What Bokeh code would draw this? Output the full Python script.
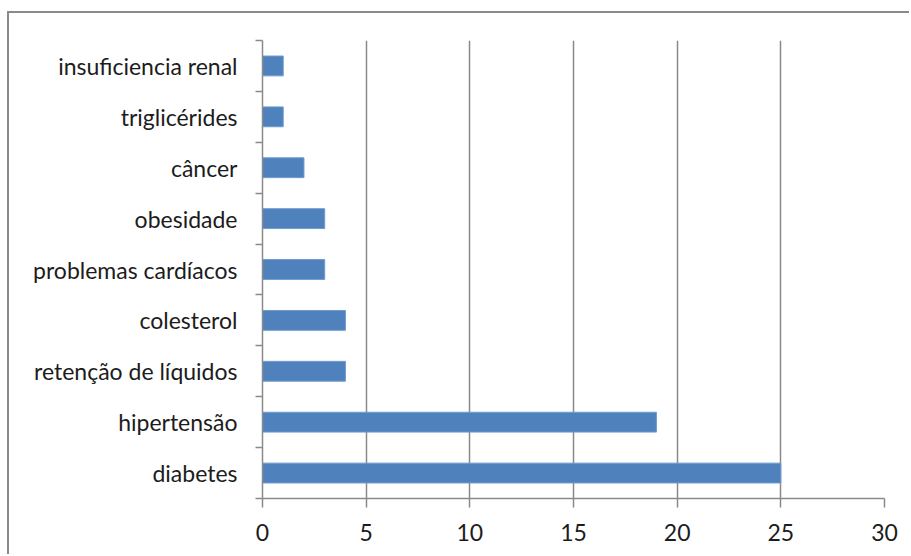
from bokeh.plotting import figure
from bokeh.models import FixedTicker, Range1d, ColumnDataSource
from bokeh.embed import file_html
from bokeh.resources import INLINE

categories = ["diabetes", "hipertensão", "retenção de líquidos", "colesterol",
              "problemas cardíacos", "obesidade", "câncer", "triglicérides",
              "insuficiencia renal"]
values = [25, 19, 4, 4, 3, 3, 2, 1, 1]
x_ticks = [0, 5, 10, 15, 20, 25, 30]

positions = [i + 0.5 for i in range(len(categories))]
source = ColumnDataSource(dict(y=positions, v=values))

p = figure(width=902, height=543, output_backend="svg", toolbar_location=None,
           x_range=Range1d(0, 30), y_range=Range1d(0, len(categories)),
           min_border_left=253, min_border_right=27, min_border_top=27,
           min_border_bottom=58)
p.margin = (11, 0, 0, 7)
p.styles = {"border-top": "2px solid #8a8a8a", "border-left": "2px solid #8a8a8a"}
p.outline_line_color = None
p.background_fill_color = "white"
p.border_fill_color = "white"

p.hbar(y="y", right="v", left=0, height=0.39, source=source,
       fill_color="#4F81BD", line_color="#6f9bd0", line_width=1)

grid_color = "#8a8a8a"
font = "Lato"
text_color = "#1c1c1c"

# x axis
p.xaxis.ticker = FixedTicker(ticks=x_ticks)
p.xaxis.axis_line_color = grid_color
p.xaxis.axis_line_width = 1.5
p.xaxis.major_tick_line_color = grid_color
p.xaxis.major_tick_line_width = 1.5
p.xaxis.major_tick_out = 9
p.xaxis.major_tick_in = 0
p.xaxis.minor_tick_line_color = None
p.xaxis.major_label_text_font = font
p.xaxis.major_label_text_font_size = "23px"
p.xaxis.major_label_text_color = text_color
p.xaxis.major_label_standoff = 16

# y axis: labels centred on bars, tick marks between categories
p.yaxis.ticker = FixedTicker(ticks=positions, minor_ticks=list(range(len(categories) + 1)))
p.yaxis.major_label_overrides = {pos: c for pos, c in zip(positions, categories)}
p.yaxis.axis_line_color = grid_color
p.yaxis.axis_line_width = 1.5
p.yaxis.major_tick_line_color = None
p.yaxis.major_tick_out = 0
p.yaxis.major_tick_in = 0
p.yaxis.minor_tick_line_color = grid_color
p.yaxis.minor_tick_line_width = 1.5
p.yaxis.minor_tick_out = 7
p.yaxis.minor_tick_in = 0
p.yaxis.major_label_text_font = font
p.yaxis.major_label_text_font_size = "23px"
p.yaxis.major_label_text_color = text_color
p.yaxis.major_label_standoff = 18

p.xgrid.ticker = FixedTicker(ticks=x_ticks)
p.xgrid.grid_line_color = grid_color
p.xgrid.grid_line_width = 1.5
p.ygrid.grid_line_color = None

open("out.html", "w").write(file_html(p, INLINE))
